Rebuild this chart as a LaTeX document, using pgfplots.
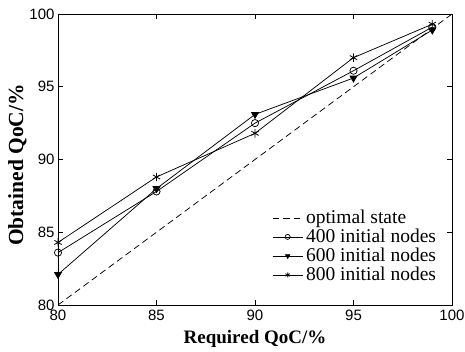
\documentclass[border=0pt]{standalone}
\usepackage{fontspec}
\setmainfont{Liberation Serif}
\newfontfamily\tickfont{Liberation Sans}
\usepackage{pgfplots}
\pgfplotsset{compat=1.18}
\begin{document}
\begin{tikzpicture}
\begin{axis}[
  at={(0,0)}, anchor=south west,
  width=394bp, height=291bp, scale only axis,
  xmin=80, xmax=100, ymin=80, ymax=100,
  xtick={80,85,90,95,100}, ytick={80,85,90,95,100},
  tick align=inside, major tick length=5bp,
  tick style={black, line width=0.8pt},
  axis line style={line width=1pt},
  xticklabel style={font=\tickfont\fontsize{15bp}{17bp}\selectfont, yshift=-2bp},
  yticklabel style={font=\tickfont\fontsize{15bp}{17bp}\selectfont, xshift=0bp},
  /pgf/number format/assume math mode=true,
  xlabel={\textbf{Required QoC/\%}},
  ylabel={\textbf{Obtained QoC/\%}},
  xlabel style={font=\fontsize{19bp}{21bp}\selectfont, at={(axis description cs:0.5,0)}, anchor=base, yshift=-38bp},
  ylabel style={font=\fontsize{21.5bp}{23bp}\selectfont, at={(axis description cs:-0.0888,0.481)}, anchor=base},
  legend style={draw=none, fill=none, at={(0.965,0.07)}, anchor=south east,
    font=\fontsize{19.5bp}{22bp}\selectfont, row sep=0bp,
    legend cell align=left, inner xsep=0bp, inner ysep=0bp,
    /tikz/every odd column/.append style={column sep=1bp}},
  legend image code/.code={\draw[mark repeat=2,mark phase=2,#1,mark size=2.5bp] plot coordinates {(0bp,0bp)(15bp,0bp)(30bp,0bp)};},
]
\addplot[black, dash pattern=on 6.5bp off 4bp, line width=0.75pt] coordinates {(80,80) (100,100)};
\addlegendentry{optimal state}
\addplot[black, line width=0.75pt, mark=o, mark size=3.6bp, mark options={solid, line width=0.75pt}] coordinates {
(80,83.6) (85,87.8) (90,92.5) (95,96.1) (99,99.1)};
\addlegendentry{400 initial nodes}
\addplot[black, line width=0.75pt, mark=triangle*, mark size=4bp, mark options={solid, rotate=180, fill=black}] coordinates {
(80,82.1) (85,88.0) (90,93.1) (95,95.6) (99,98.9)};
\addlegendentry{600 initial nodes}
\addplot[black, line width=0.75pt, mark=asterisk, mark size=4.2bp, mark options={solid, line width=0.8pt}] coordinates {
(80,84.3) (85,88.8) (90,91.8) (95,97.0) (99,99.3)};
\addlegendentry{800 initial nodes}
\end{axis}
\pgfresetboundingbox
\path[use as bounding box] (-58bp,-47bp) rectangle (407bp,305bp);
\end{tikzpicture}
\end{document}
